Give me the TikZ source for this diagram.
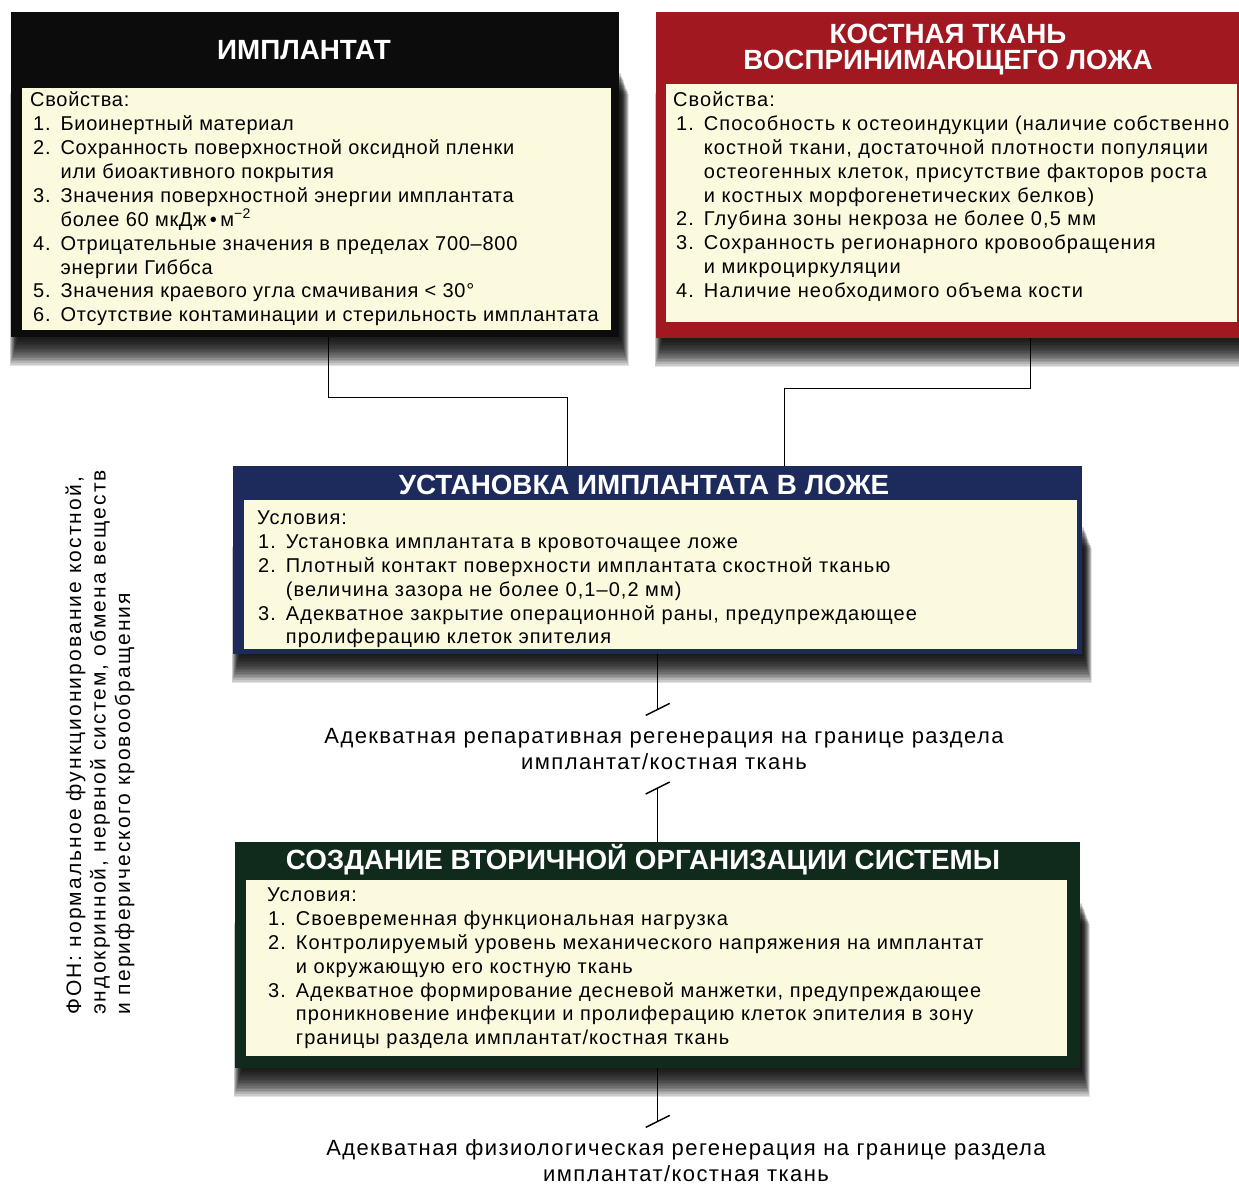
\documentclass[tikz,border=0pt]{standalone}
\usepackage{fontspec}
\setmainfont{Liberation Sans}
\newfontfamily\listfont[LetterSpace=5.2]{Liberation Sans}
\newfontfamily\implistfont[LetterSpace=3.6]{Liberation Sans}
\newfontfamily\notefont[LetterSpace=6.4]{Liberation Sans}
\newfontfamily\sidefont[LetterSpace=10]{Liberation Sans}
\usetikzlibrary{backgrounds}

\definecolor{panelyellow}{RGB}{251,250,222}
\definecolor{impblack}{RGB}{12,12,12}
\definecolor{bonered}{RGB}{162,24,32}
\definecolor{instblue}{RGB}{28,42,92}
\definecolor{secgreen}{RGB}{16,42,28}

\tikzset{
  block/.style={rectangle, inner sep=0pt, anchor=north west},
  panel/.style={rectangle, fill=panelyellow, inner sep=0pt, anchor=north west},
  head/.style={text=white, align=center, inner sep=0pt,
    font=\bfseries\fontsize{27.8}{26}\selectfont},
  items/.style={anchor=north west, inner sep=0pt,
    font=\listfont\fontsize{20}{23.8}\selectfont},
  resulttext/.style={align=center, inner sep=0pt,
    font=\notefont\fontsize{22}{26}\selectfont},
  link/.style={line width=1.4pt},
  endbar/.pic={\draw[line width=1.4pt] (-12,6) -- (12,-6);}
}

% soft dark shadow under a block, built from stacked translucent layers
\newcommand{\blockshadow}[1]{%
  \foreach \s in {1,...,18}
    \fill[black, opacity=0.11]
      ([xshift={7pt-0.45pt*\s}, yshift={-1.6pt*\s}]#1.south west)
      rectangle ([xshift={1pt+0.45pt*\s}, yshift={-60pt-1.2pt*\s}]#1.north east);}

\begin{document}
\begin{tikzpicture}[x=1pt, y=-1pt]

\useasboundingbox (0,0) rectangle (1239,1185);

% Implant block
\node[block, fill=impblack, minimum width=608pt, minimum height=325pt] (imp) at (11,12) {};
\node[panel, minimum width=589pt, minimum height=242pt] (imppanel) at (22,88) {};
\node[head] (imphead) at (304,50) {ИМПЛАНТАТ};
\node[items, font=\implistfont\fontsize{20}{23.8}\selectfont] (implist) at (30,90) {\begin{tabular}{@{\hspace{3pt}}r@{\hspace{10pt}}l@{}}
\multicolumn{2}{@{}l@{}}{Свойства:}\\
1. & Биоинертный материал\\
2. & Сохранность поверхностной оксидной пленки\\
   & или биоактивного покрытия\\
3. & Значения поверхностной энергии имплантата\\
   & более 60 мкДж\,•\,м\textsuperscript{−2}\\
4. & Отрицательные значения в пределах 700–800\\
   & энергии Гиббса\\
5. & Значения краевого угла смачивания < 30°\\
6. & Отсутствие контаминации и стерильность имплантата
\end{tabular}};

% Host bone block
\node[block, fill=bonered, minimum width=590pt, minimum height=326pt] (bone) at (656,12) {};
\node[panel, minimum width=571pt, minimum height=238pt] (bonepanel) at (666,84) {};
\node[head] (bonehead) at (948,50) {КОСТНАЯ ТКАНЬ\\ВОСПРИНИМАЮЩЕГО ЛОЖА};
\node[items] (bonelist) at (673,90) {\begin{tabular}{@{\hspace{3pt}}r@{\hspace{10pt}}l@{}}
\multicolumn{2}{@{}l@{}}{Свойства:}\\
1. & Способность к остеоиндукции (наличие собственно\\
   & костной ткани, достаточной плотности популяции\\
   & остеогенных клеток, присутствие факторов роста\\
   & и костных морфогенетических белков)\\
2. & Глубина зоны некроза не более 0,5 мм\\
3. & Сохранность регионарного кровообращения\\
   & и микроциркуляции\\
4. & Наличие необходимого объема кости
\end{tabular}};

% Placement block
\node[block, fill=instblue, minimum width=849pt, minimum height=188pt] (inst) at (233,466) {};
\node[panel, minimum width=833pt, minimum height=149pt] (instpanel) at (244,500) {};
\node[head] (insthead) at (644,485) {УСТАНОВКА ИМПЛАНТАТА В ЛОЖЕ};
\node[items] (instlist) at (257,508) {\begin{tabular}{@{\hspace{1pt}}r@{\hspace{10pt}}l@{}}
\multicolumn{2}{@{}l@{}}{Условия:}\\
1. & Установка имплантата в кровоточащее ложе\\
2. & Плотный контакт поверхности имплантата скостной тканью\\
   & (величина зазора не более 0,1–0,2 мм)\\
3. & Адекватное закрытие операционной раны, предупреждающее\\
   & пролиферацию клеток эпителия
\end{tabular}};

% Secondary organisation block
\node[block, fill=secgreen, minimum width=845pt, minimum height=226pt] (sec) at (235,842) {};
\node[panel, minimum width=821pt, minimum height=176pt] (secpanel) at (246,880) {};
\node[head] (sechead) at (643,860) {СОЗДАНИЕ ВТОРИЧНОЙ ОРГАНИЗАЦИИ СИСТЕМЫ};
\node[items] (seclist) at (267,885) {\begin{tabular}{@{\hspace{1pt}}r@{\hspace{10pt}}l@{}}
\multicolumn{2}{@{}l@{}}{Условия:}\\
1. & Своевременная функциональная нагрузка\\
2. & Контролируемый уровень механического напряжения на имплантат\\
   & и окружающую его костную ткань\\
3. & Адекватное формирование десневой манжетки, предупреждающее\\
   & проникновение инфекции и пролиферацию клеток эпителия в зону\\
   & границы раздела имплантат/костная ткань
\end{tabular}};

% Outcomes
\node[resulttext] (regen1) at (664,749) {Адекватная репаративная регенерация на границе раздела\\имплантат/костная ткань};
\node[resulttext] (regen2) at (686,1161) {Адекватная физиологическая регенерация на границе раздела\\имплантат/костная ткань};

% Background conditions, set sideways
\node[rotate=90, anchor=west, align=left, inner sep=0pt,
  font=\sidefont\fontsize{21}{24.5}\selectfont] (bg) at (100,1015)
  {ФОН: нормальное функционирование костной,\\эндокринной, нервной систем, обмена веществ\\и периферического кровообращения};

% Connectors
\draw[link] ([xshift=13pt]imp.south) -- ++(0,60) -| ([xshift=-90pt]inst.north);
\draw[link] ([xshift=79pt]bone.south) -- ++(0,50) -| ([xshift=127pt]inst.north);

\coordinate (bar1) at ([yshift=-55pt]inst.south);
\coordinate (bar2) at ([yshift=54pt]sec.north);
\coordinate (bar3) at ([yshift=-53pt]sec.south);
\draw[link] (inst.south) -- (bar1) pic {endbar};
\draw[link] (sec.north) -- (bar2) pic {endbar};
\draw[link] (sec.south) -- (bar3) pic {endbar};

% Page and shadows behind everything
\begin{scope}[on background layer]
  \fill[white] (0,0) rectangle (1239,1185);
  \blockshadow{imp}
  \blockshadow{bone}
  \blockshadow{inst}
  \blockshadow{sec}
\end{scope}

\end{tikzpicture}
\end{document}
